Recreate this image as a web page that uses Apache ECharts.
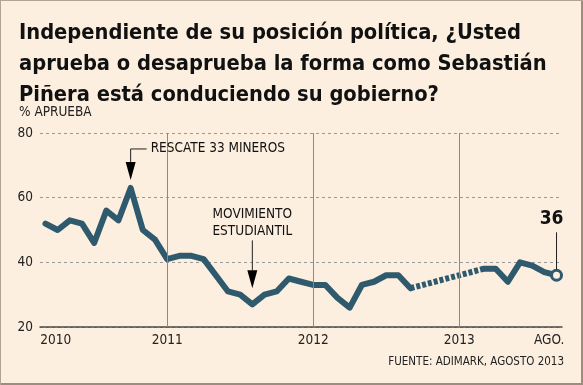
<!DOCTYPE html>
<html><head><meta charset="utf-8">
<script src="https://cdn.jsdelivr.net/npm/echarts@6/dist/echarts.min.js"></script>
<style>
html,body{margin:0;padding:0;background:#fcefdf;}
#c{position:absolute;left:0;top:0;width:583px;height:385px;background:#fcefdf;box-shadow: inset 1px 1px 0 #b3a396, inset -2px -2px 0 #9d8d81;}
</style></head><body><div id="c"></div>
<script>
// ---- data (x = months counted from Jan 2010) ----
const titleLines = ['Independiente de su posición política, ¿Usted', 'aprueba o desaprueba la forma como Sebastián', 'Piñera está conduciendo su gobierno?'];
const yAxisName = '% APRUEBA';
const sourceText = 'FUENTE: ADIMARK, AGOSTO 2013';
const monthsA = [2,3,4,5,6,7,8,9,10,11,12,13,14,15,16,17,18,19,20,21,22,23,24,25,26,27,28,29,30,31,32];
const approvalA = [52,50,53,52,46,56,53,63,50,47,41,42,42,41,36,31,30,27,30,31,35,34,33,33,29,26,33,34,36,36,32];
const monthsB = [38,39,40,41,42,43,44];
const approvalB = [38,38,34,40,39,37,36];
const xTickValues = [2.85, 12, 24, 36, 43.4];
const xTickLabels = ['2010', '2011', '2012', '2013', 'AGO.'];
const yearLines = [12, 24, 36];
const yTicks = [20, 40, 60, 80];
const annotRescate = {x: 9, y: 63, text: 'RESCATE 33 MINEROS'};
const annotEstud = {x: 19, y: 27, text: 'MOVIMIENTO\nESTUDIANTIL'};
const lastLabel = '36';

const FONT = '"DejaVu Sans Condensed", "DejaVu Sans", sans-serif';
const LINE = '#2f5a6e';
const BG = '#fcefdf';

const segA = monthsA.map((m, i) => [m, approvalA[i]]);
const segB = monthsB.map((m, i) => {
  const last = i === monthsB.length - 1;
  return last ? {value: [m, approvalB[i]], symbol: 'circle', symbolSize: 10,
    itemStyle: {color: BG, borderColor: LINE, borderWidth: 3}} : [m, approvalB[i]];
});
const gap = [segA[segA.length - 1], [monthsB[0], approvalB[0]]];

const chart = echarts.init(document.getElementById('c'), null, {renderer: 'canvas'});
chart.setOption({
  animation: false,
  title: [
    {text: titleLines.join('\n'), left: 19, top: 18, padding: 0,
     textStyle: {fontFamily: FONT, fontSize: 21.7, fontWeight: 'bold', color: '#111', lineHeight: 31}},
    {text: yAxisName, left: 19, top: 105, padding: 0,
     textStyle: {fontFamily: FONT, fontSize: 13.5, fontWeight: 'normal', color: '#222'}},
    {text: sourceText, right: 19, top: 356, padding: 0,
     textStyle: {fontFamily: FONT, fontSize: 11.5, fontWeight: 'normal', color: '#222'}}
  ],
  grid: {left: 40, right: 21, top: 133, bottom: 58},
  xAxis: {
    type: 'value', min: 1.55, max: 44.45,
    axisLine: {show: true, lineStyle: {color: '#4a4a4a', width: 1.5}},
    axisTick: {show: false}, splitLine: {show: false},
    axisLabel: {customValues: xTickValues, showMinLabel: true, showMaxLabel: true,
      formatter: v => { const i = xTickValues.indexOf(v); return i >= 0 ? xTickLabels[i] : ''; },
      fontFamily: FONT, fontSize: 13.5, color: '#222', margin: 6}
  },
  yAxis: {
    type: 'value', min: yTicks[0], max: yTicks[yTicks.length - 1], interval: 20,
    axisLine: {show: false}, axisTick: {show: false},
    splitLine: {show: true, lineStyle: {color: '#9a9a9a', type: [3, 3], width: 1}},
    axisLabel: {fontFamily: FONT, fontSize: 13.5, color: '#222', margin: 7}
  },
  series: [
    {type: 'line', z: 1, data: [], silent: true,
     markLine: {silent: true, symbol: 'none', label: {show: false},
       lineStyle: {color: '#8a8a8a', width: 1, type: 'solid'},
       data: yearLines.map(v => ({xAxis: v}))}},
    {type: 'line', z: 2, data: gap, symbol: 'none',
     lineStyle: {color: LINE, width: 6, type: [4, 2]}},
    {type: 'line', z: 3, data: segA, symbol: 'none',
     lineStyle: {color: LINE, width: 6, cap: 'round', join: 'round'}},
    {type: 'line', z: 3, data: segB, symbol: 'none', showSymbol: true,
     lineStyle: {color: LINE, width: 6, cap: 'round', join: 'round'}}
  ]
});

const r = chart.convertToPixel({gridIndex: 0}, [annotRescate.x, annotRescate.y]);
const s = chart.convertToPixel({gridIndex: 0}, [annotEstud.x, annotEstud.y]);
const l = chart.convertToPixel({gridIndex: 0}, [monthsB[monthsB.length - 1], approvalB[approvalB.length - 1]]);
const rTip = r[1] - 8, sTip = s[1] - 16;
const txt = (text, x, y, size, weight, align, valign, lh) => ({type: 'text', z: 10,
  style: {text, x, y, fill: '#111', fontFamily: FONT, fontSize: size, fontWeight: weight,
    align, verticalAlign: valign, textAlign: align, textVerticalAlign: valign, lineHeight: lh}});
chart.setOption({graphic: [
  {type: 'polygon', z: 10, shape: {points: [[r[0] - 5, rTip - 18], [r[0] + 5, rTip - 18], [r[0], rTip]]}, style: {fill: '#000'}},
  {type: 'polyline', z: 10, shape: {points: [[r[0], rTip - 18], [r[0], rTip - 31], [r[0] + 16, rTip - 31]]}, style: {stroke: '#222', lineWidth: 1, fill: null}},
  txt(annotRescate.text, r[0] + 20, rTip - 31, 13.5, 'normal', 'left', 'middle', 16),
  {type: 'polygon', z: 10, shape: {points: [[s[0] - 5, sTip - 18], [s[0] + 5, sTip - 18], [s[0], sTip]]}, style: {fill: '#000'}},
  {type: 'line', z: 10, shape: {x1: s[0], y1: sTip - 18, x2: s[0], y2: sTip - 48}, style: {stroke: '#222', lineWidth: 1}},
  txt(annotEstud.text, s[0], sTip - 48, 13.5, 'normal', 'center', 'bottom', 17.5),
  {type: 'line', z: 10, shape: {x1: l[0], y1: l[1] - 6, x2: l[0], y2: l[1] - 43}, style: {stroke: '#222', lineWidth: 1}},
  txt(lastLabel, l[0] - 5, l[1] - 56, 19, 'bold', 'center', 'middle', 20)
]});
</script></body></html>
